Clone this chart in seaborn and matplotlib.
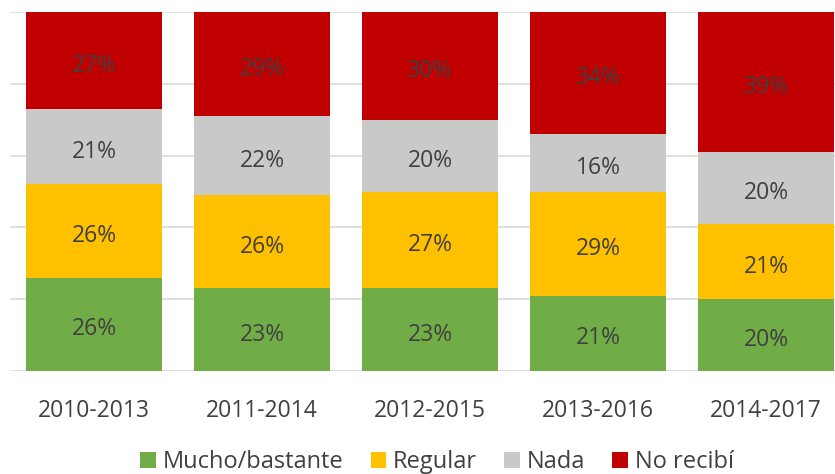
import matplotlib
matplotlib.use("Agg")
import matplotlib.pyplot as plt
import seaborn as sns
import pandas as pd
import numpy as np
from matplotlib.patches import Patch

periods = ["2010-2013", "2011-2014", "2012-2015", "2013-2016", "2014-2017"]
mucho = [26, 23, 23, 21, 20]
regular = [26, 26, 27, 29, 21]
nada = [21, 22, 20, 16, 20]
no_recibi = [27, 29, 30, 34, 39]
series_names = ["Mucho/bastante", "Regular", "Nada", "No recibí"]
colors = ["#70AD47", "#FFC000", "#C9C9C9", "#C00000"]

sns.set_theme(style="white")
plt.rcParams["font.family"] = ["Open Sans", "DejaVu Sans"]

df = pd.DataFrame({"period": periods, "m": mucho, "r": regular, "n": nada, "x": no_recibi})
vals = df[["m", "r", "n", "x"]].to_numpy() / 100.0
cum = np.cumsum(vals, axis=1)

fig = plt.figure(figsize=(8.35, 4.74), dpi=100)
ax = fig.add_axes([10 / 835, 103 / 474, 840 / 835, 359 / 474])

for j in range(3, -1, -1):
    sns.barplot(x=df["period"], y=cum[:, j], color=colors[j], width=0.81,
                saturation=1, linewidth=0, edgecolor="none", ax=ax, zorder=2)

for i in range(len(periods)):
    for j in range(4):
        bottom = cum[i, j] - vals[i, j]
        ax.text(i, bottom + vals[i, j] / 2 - 0.006, f"{int(round(vals[i, j] * 100))}%",
                ha="center", va="center_baseline", fontsize=16.5, color="#404040", zorder=3)

ax.set_ylim(0, 1.0)
ax.set_xlim(-0.5, 4.5)
ax.set_yticks([0, 0.2, 0.4, 0.6, 0.8, 1.0])
ax.yaxis.grid(True, color="#D9D9D9", linewidth=1.2, zorder=0)
ax.set_axisbelow(True)
ax.tick_params(axis="y", left=False, labelleft=False)
ax.tick_params(axis="x", bottom=False, labelsize=16.5, labelcolor="#404040", pad=14)
ax.set_xlabel("")
ax.set_ylabel("")
for s in ax.spines.values():
    s.set_visible(False)

handles = [Patch(facecolor=c, edgecolor="none") for c in colors]
fig.legend(handles, series_names, loc="center", bbox_to_anchor=(437 / 835, 12 / 474),
           ncol=4, frameon=False, fontsize=17, labelcolor="#404040",
           handlelength=0.65, handleheight=0.65, handletextpad=0.3, columnspacing=1.15)

fig.savefig("out.png", dpi=100)
